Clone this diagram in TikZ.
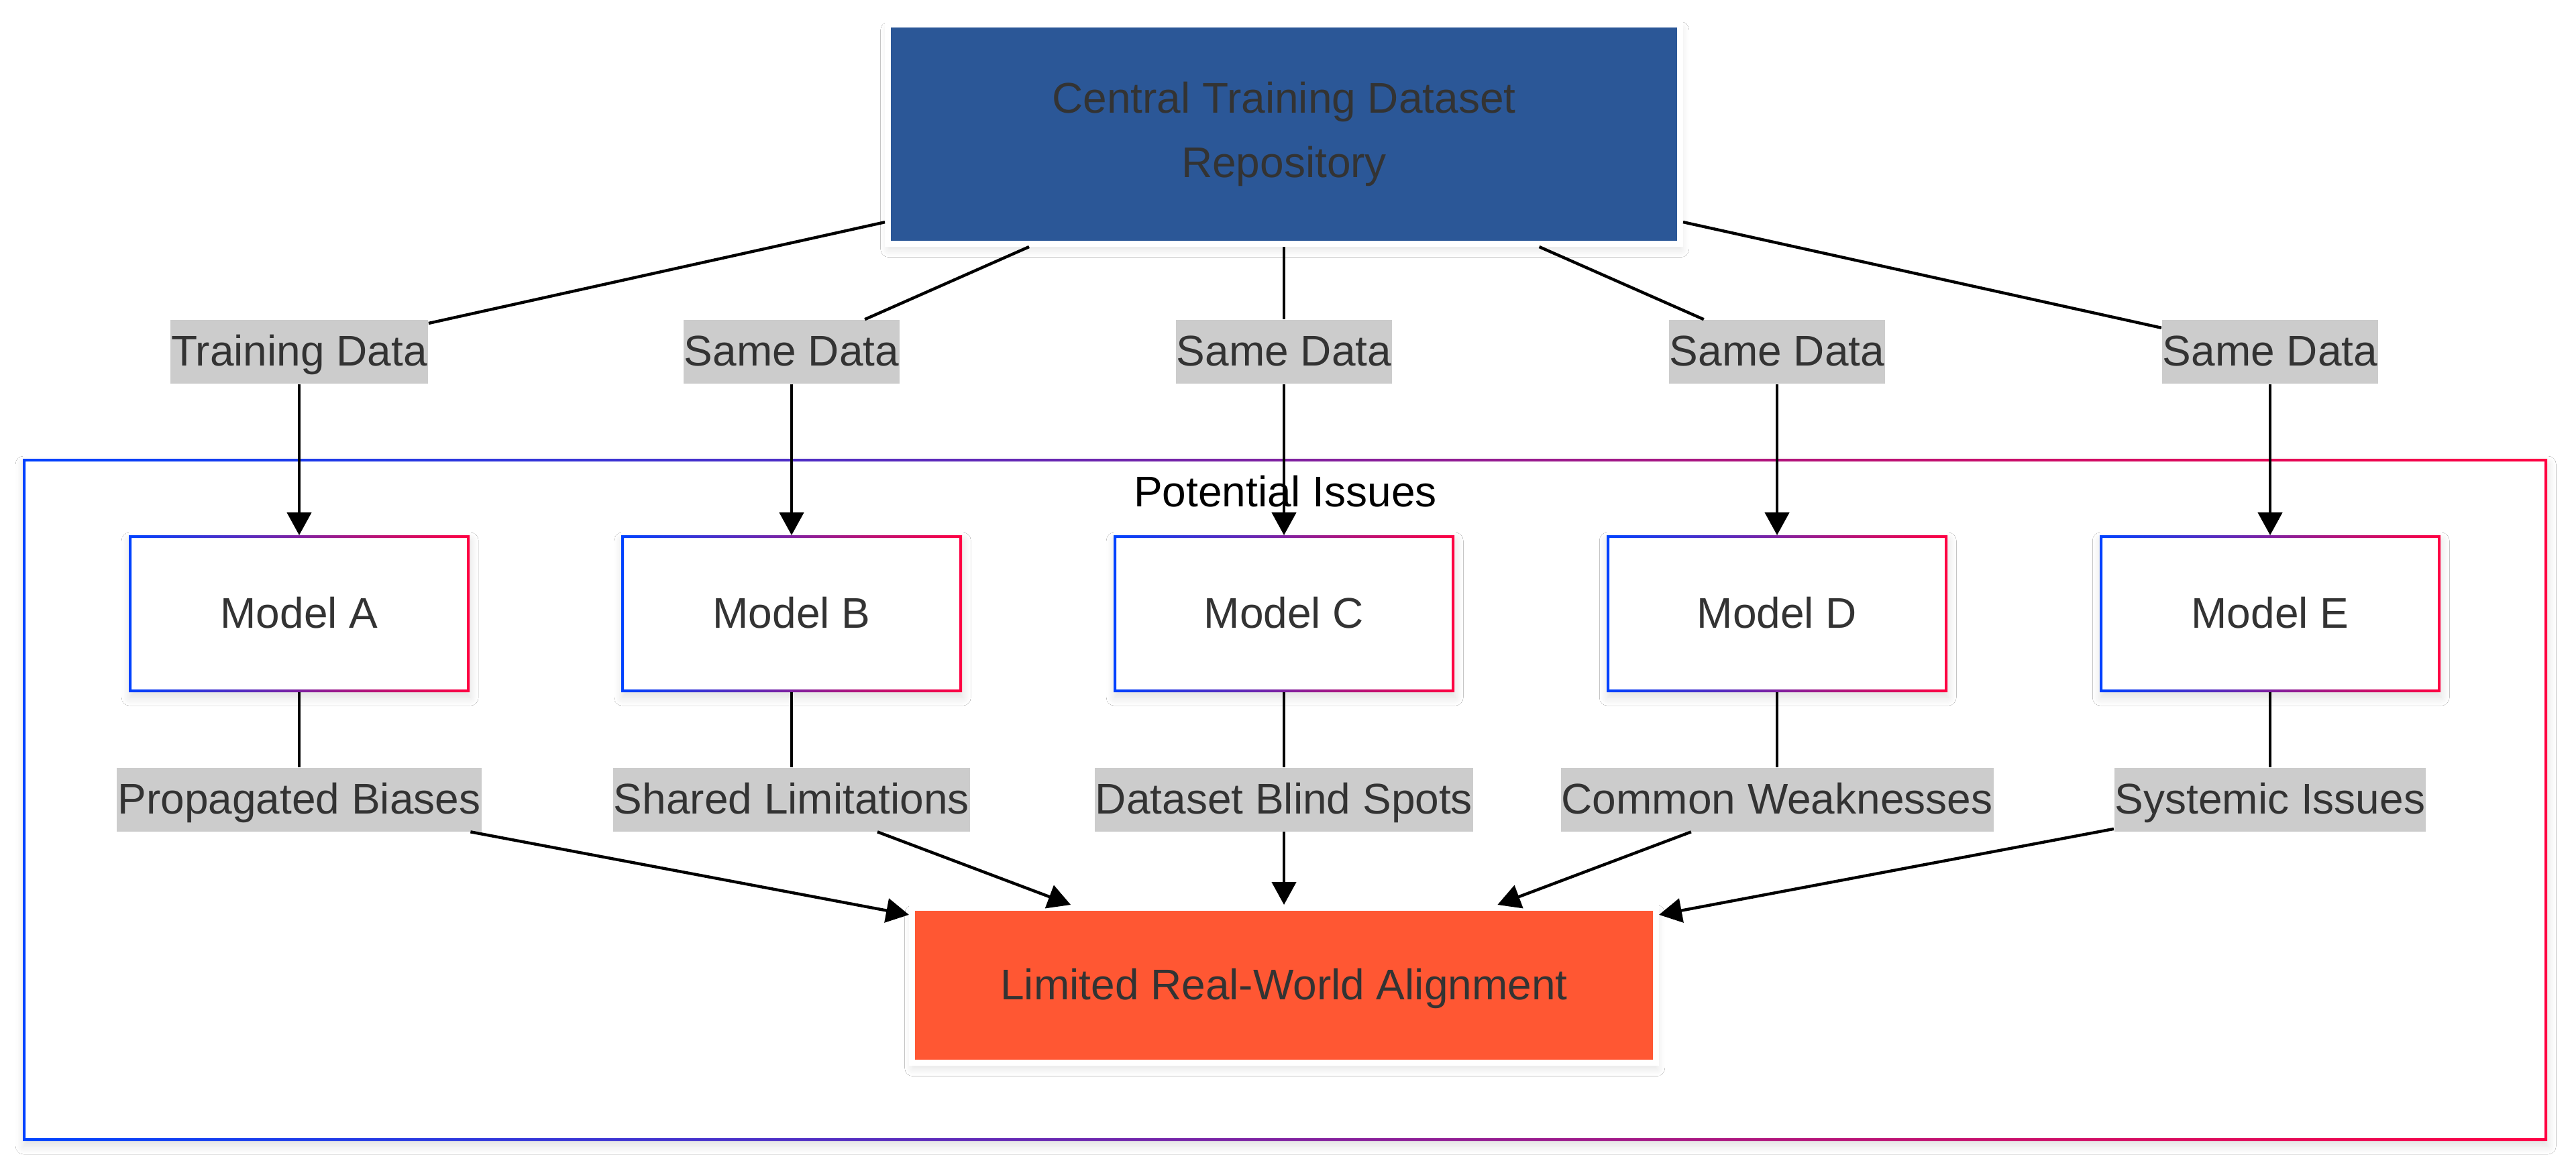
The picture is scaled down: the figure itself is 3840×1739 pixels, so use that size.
\documentclass[tikz,border=0pt]{standalone}
\usepackage{fontspec}
\setmainfont{Liberation Sans}
\usetikzlibrary{arrows.meta,shadows.blur}
\definecolor{gblue}{HTML}{0042FF}
\definecolor{gred}{HTML}{FF0042}
\definecolor{cblue}{HTML}{2B5797}
\definecolor{corange}{HTML}{FF5733}
\definecolor{lgray}{HTML}{CCCCCC}
\definecolor{txt}{HTML}{333333}
\newcommand\gframe[2]{%
  \shade[left color=gblue,right color=gred,even odd rule]
    (#1.south west) rectangle (#1.north east)
    ([xshift=#2,yshift=#2]#1.south west) rectangle ([xshift=-#2,yshift=-#2]#1.north east);}
\begin{document}
\begin{tikzpicture}[x=0.25pt,y=-0.25pt,
  every node/.style={font=\fontsize{16pt}{24pt}\selectfont},
  softshadow/.style={blur shadow={shadow xshift=0.3pt,shadow yshift=-2pt,shadow blur radius=3pt,
    shadow blur steps=12,shadow opacity=12}},
  model/.style={fill=white,minimum width=127pt,minimum height=58.5pt,outer sep=0pt,inner sep=0pt,
    text=txt,text height=12pt,text depth=1.5pt,softshadow},
  elabel/.style={fill=lgray,inner xsep=0.3pt,inner ysep=0pt,minimum height=23.75pt,
    text=txt,text height=12pt,text depth=1.5pt},
  hub/.style={fill=cblue,draw=white,line width=2.25pt,minimum width=295.25pt,minimum height=81.75pt,
    text=txt,align=center,softshadow},
  sink/.style={fill=corange,draw=white,line width=2.25pt,minimum width=277.25pt,minimum height=57.75pt,
    text=txt,text height=12pt,text depth=1.5pt,softshadow},
  edge/.style={line width=1.1pt,draw=black},
  arr/.style={edge,-{Triangle[length=8.5pt,width=9pt]}},
]
\useasboundingbox (0,0) rectangle (3840,1739);
\fill[white] (0,0) rectangle (3840,1739);

% container
\coordinate (cTL) at (34,684);
\coordinate (cBR) at (3797,1701);
\path[fill=white,softshadow] (cTL) rectangle (cBR);
\shade[left color=gblue,right color=gred,even odd rule]
  (cTL) rectangle (cBR)
  ([shift={(1pt,-1pt)}]cTL) rectangle ([shift={(-1pt,1pt)}]cBR);
\node[text=black,text height=12pt,text depth=1.5pt,inner sep=0pt] (title) at (1916,734) {Potential Issues};

% main nodes
\node[hub] (central) at (1914,200) {Central Training Dataset\\Repository};
\node[sink] (lim) at (1914,1469) {Limited Real-World Alignment};

\node[model] (mA) at (446,915) {Model A};
\node[model] (mB) at (1180,915) {Model B};
\node[model] (mC) at (1914,915) {Model C};
\node[model] (mD) at (2649,915) {Model D};
\node[model] (mE) at (3384,915) {Model E};
\foreach \m in {mA,mB,mC,mD,mE}{\gframe{\m}{1pt}}

% edge labels
\node[elabel] (tA) at (446,524.5) {Training Data};
\node[elabel] (tB) at (1180,524.5) {Same Data};
\node[elabel] (tC) at (1914,524.5) {Same Data};
\node[elabel] (tD) at (2649,524.5) {Same Data};
\node[elabel] (tE) at (3384,524.5) {Same Data};

\node[elabel] (bA) at (446,1192) {Propagated Biases};
\node[elabel] (bB) at (1180,1192) {Shared Limitations};
\node[elabel] (bC) at (1914,1192) {Dataset Blind Spots};
\node[elabel] (bD) at (2649,1192) {Common Weaknesses};
\node[elabel] (bE) at (3384,1192) {Systemic Issues};

% connectors
\foreach \x in {A,B,C,D,E}{
  \draw[edge] (central) -- (t\x);
  \draw[arr] (t\x) -- (m\x);
  \draw[edge] (m\x) -- (b\x);
  \draw[arr] (b\x) -- (lim);
}
\end{tikzpicture}
\end{document}
